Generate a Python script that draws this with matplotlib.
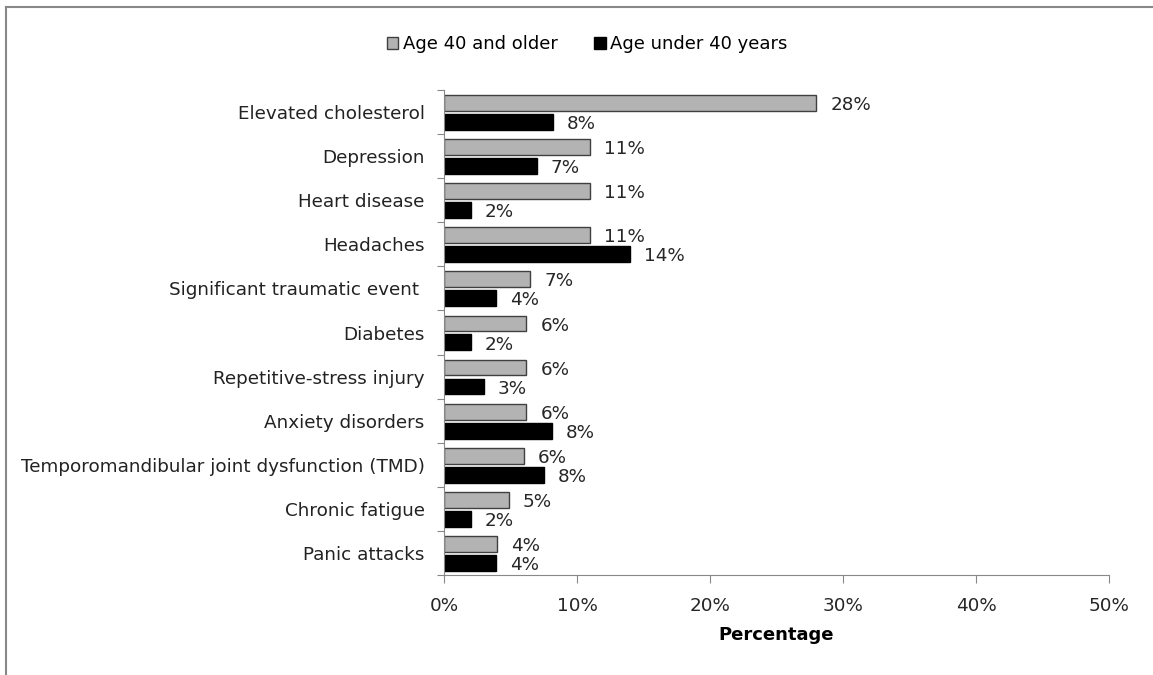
import matplotlib
matplotlib.use("Agg")
import matplotlib.pyplot as plt
from matplotlib.lines import Line2D
from matplotlib.patches import Patch
import numpy as np

conditions = ['Elevated cholesterol', 'Depression', 'Heart disease', 'Headaches',
              'Significant traumatic event ', 'Diabetes', 'Repetitive-stress injury',
              'Anxiety disorders', 'Temporomandibular joint dysfunction (TMD)',
              'Chronic fatigue', 'Panic attacks']
age_40_older = [28.0, 11.0, 11.0, 11.0, 6.5, 6.2, 6.2, 6.2, 6.0, 4.9, 4.0]
age_under_40 = [8.2, 7.0, 2.0, 14.0, 3.9, 2.0, 3.0, 8.1, 7.5, 2.0, 3.9]
older_labels = ['28%', '11%', '11%', '11%', '7%', '6%', '6%', '6%', '6%', '5%', '4%']
under_labels = ['8%', '7%', '2%', '14%', '4%', '2%', '3%', '8%', '8%', '2%', '4%']
xticks = [0, 10, 20, 30, 40, 50]

plt.rcParams['font.family'] = 'DejaVu Sans'
fig = plt.figure(figsize=(11.53, 6.75), dpi=100)
ax = fig.add_axes([444/1153, 1 - 575/675, (1109 - 444)/1153, (575 - 90)/675])

y = np.arange(len(conditions))
h = 0.36
ax.barh(y - 0.205, age_40_older, h, color='#b3b3b3', edgecolor='#404040', linewidth=1,
        label='Age 40 and older')
ax.barh(y + 0.225, age_under_40, h, color='black', edgecolor='black', linewidth=1,
        label='Age under 40 years')

for i in range(len(conditions)):
    ax.annotate(older_labels[i], (age_40_older[i], y[i] - 0.205), xytext=(10, -1.5),
                textcoords='offset points', va='center', ha='left', fontsize=13.2,
                color='#262626')
    ax.annotate(under_labels[i], (age_under_40[i], y[i] + 0.225), xytext=(10, -1.5),
                textcoords='offset points', va='center', ha='left', fontsize=13.2,
                color='#262626')

ax.set_xlim(0, 50)
ax.set_ylim(len(conditions) - 0.5, -0.5)
ax.set_xticks(xticks)
ax.set_xticklabels([str(t) + '%' for t in xticks], fontsize=13.2, color='#262626')
ax.set_yticks(np.arange(len(conditions) + 1) - 0.5)
ax.set_yticklabels([])
ax.set_yticks(y, minor=True)
ax.set_yticklabels(conditions, minor=True, fontsize=13.2, color='#222222')
ax.tick_params(axis='y', which='minor', length=0, pad=14)
ax.tick_params(axis='y', which='major', length=5, color='#888888')
ax.tick_params(axis='x', length=6, color='#888888', pad=10)
for s in ['top', 'right']:
    ax.spines[s].set_visible(False)
ax.spines['left'].set_color('#888888')
ax.spines['bottom'].set_color('#888888')
ax.set_xlabel('Percentage', fontsize=13, fontweight='bold', labelpad=8)

handles = [Patch(facecolor='#b3b3b3', edgecolor='#404040'),
           Patch(facecolor='black', edgecolor='black')]
fig.legend(handles, ['Age 40 and older', 'Age under 40 years'], loc='center',
           bbox_to_anchor=(587/1153, 1 - 44/675), ncol=2, frameon=False, fontsize=13,
           handlelength=0.65, handleheight=0.65, handletextpad=0.25, columnspacing=2.0)

# outer frame (only top and left edges visible)
fig.add_artist(Line2D([6/1153, 6/1153], [0, 1 - 7/675], color='#888888', linewidth=1.5))
fig.add_artist(Line2D([6/1153, 1], [1 - 7/675, 1 - 7/675], color='#888888', linewidth=1.5))

plt.savefig('out.png', dpi=100, facecolor='white')
